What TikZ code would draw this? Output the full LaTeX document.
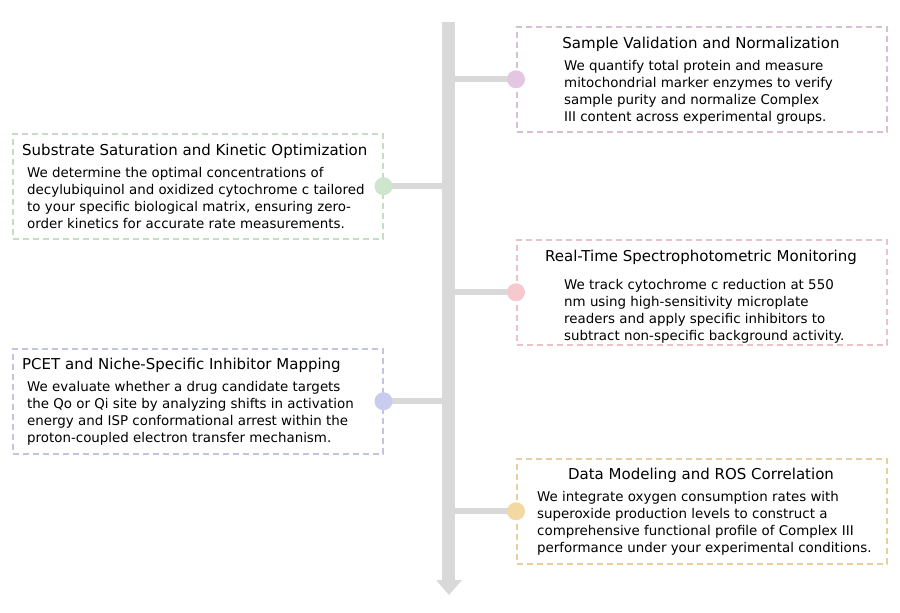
\documentclass[tikz,border=0pt]{standalone}
\usepackage{fontspec}
\setmainfont{DejaVu Sans}
\usepackage{xcolor}
\usetikzlibrary{positioning}
\definecolor{cbar}{HTML}{D9D9D9}
\definecolor{cpurple}{HTML}{E2C6E2}
\definecolor{cgreen}{HTML}{CDE6CD}
\definecolor{cpink}{HTML}{F5CACF}
\definecolor{cblue}{HTML}{C8CDEE}
\definecolor{cyellow}{HTML}{F2D9A2}
\tikzset{
    box/.style={draw=#1!90!gray, dashed, dash pattern=on 6pt off 4pt, line width=1.5pt, minimum width=370pt, minimum height=105pt, inner sep=0pt},
    dot/.style={circle, fill=#1, minimum size=18pt, inner sep=0pt},
    branch/.style={cbar, line width=6pt},
    title/.style={font=\fontsize{15}{17}\selectfont, inner sep=0pt},
    body/.style={font=\fontsize{13.4}{17}\selectfont, align=left, inner sep=0pt, anchor=north west}
}
\begin{document}
\begin{tikzpicture}[x=1pt, y=-1pt]
    \useasboundingbox (0,0) rectangle (900,613);
    % timeline
    \fill[cbar] (442,22) rectangle (455,580);
    \fill[cbar] (436,580) -- (462,580) -- (449,595) -- cycle;
    \coordinate (axis) at (449,0);
    % boxes
    \node[box=cpurple, anchor=north west] (b1) at (516,26) {};
    \node[box=cgreen, anchor=north west] (b2) at (12,133) {};
    \node[box=cpink, anchor=north west] (b3) at (516,239) {};
    \node[box=cblue, anchor=north west] (b4) at (12,348) {};
    \node[box=cyellow, anchor=north west] (b5) at (516,458) {};
    % branches and dots
    \foreach \b/\side/\c in {b1/west/cpurple, b2/east/cgreen, b3/west/cpink, b4/east/cblue, b5/west/cyellow} {
        \draw[branch] (\b.\side) -- (axis |- \b.\side);
        \node[dot=\c] (\b-dot) at (\b.\side) {};
    }
    % texts
    \node[title] (t1) at (701,44) {Sample Validation and Normalization};
    \node[body] (d1) at (564,60) {We quantify total protein and measure\\mitochondrial marker enzymes to verify\\sample purity and normalize Complex\\III content across experimental groups.};
    \node[title, anchor=west] (t2) at (22,151) {Substrate Saturation and Kinetic Optimization};
    \node[body] (d2) at (27,167) {We determine the optimal concentrations of\\decylubiquinol and oxidized cytochrome c tailored\\to your specific biological matrix, ensuring zero-\\order kinetics for accurate rate measurements.};
    \node[title] (t3) at (701,257) {Real-Time Spectrophotometric Monitoring};
    \node[body] (d3) at (564,279) {We track cytochrome c reduction at 550\\nm using high-sensitivity microplate\\readers and apply specific inhibitors to\\subtract non-specific background activity.};
    \node[title, anchor=west] (t4) at (22,365) {PCET and Niche-Specific Inhibitor Mapping};
    \node[body] (d4) at (27,381) {We evaluate whether a drug candidate targets\\the Qo or Qi site by analyzing shifts in activation\\energy and ISP conformational arrest within the\\proton-coupled electron transfer mechanism.};
    \node[title] (t5) at (701,475) {Data Modeling and ROS Correlation};
    \node[body] (d5) at (537,491) {We integrate oxygen consumption rates with\\superoxide production levels to construct a\\comprehensive functional profile of Complex III\\performance under your experimental conditions.};
\end{tikzpicture}
\end{document}
